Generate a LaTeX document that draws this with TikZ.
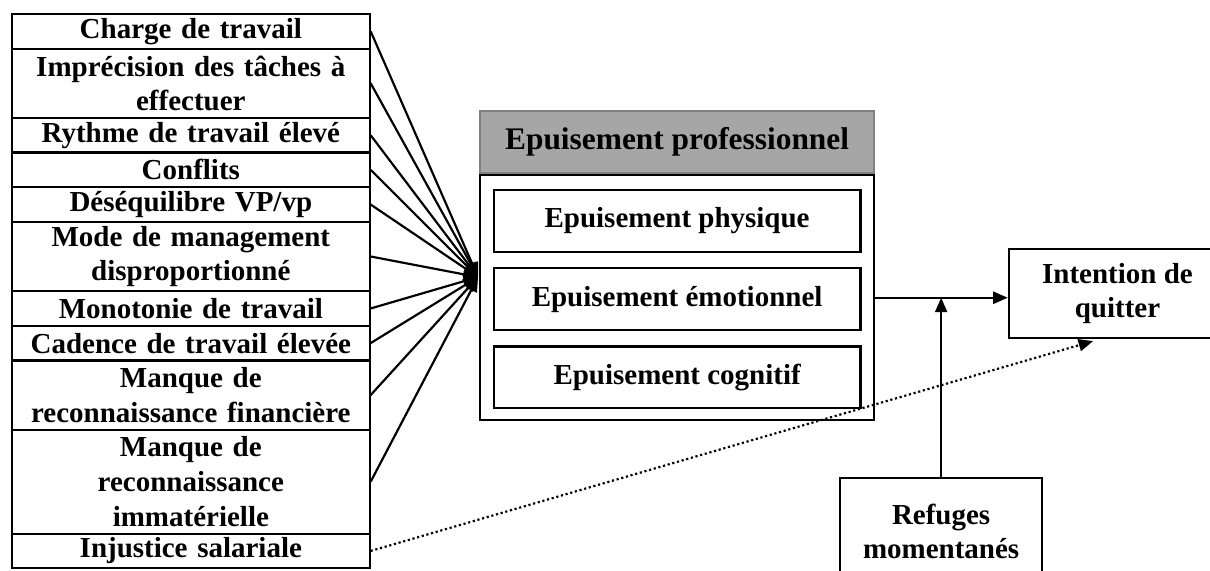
\documentclass[tikz,border=0pt]{standalone}
\usepackage{fontspec}
\setmainfont{Liberation Serif}
\usetikzlibrary{matrix,positioning,arrows.meta}

\begin{document}
\begin{tikzpicture}[
    font=\fontsize{12}{14.34}\selectfont\bfseries,
    >={Triangle[length=6pt,width=5pt]},
    box/.style={draw, line width=0.9pt, align=center},
    oneline/.style={minimum height=14.34pt},
    twolines/.style={minimum height=28.68pt},
    threelines/.style={minimum height=43.02pt},
    dimbox/.style={box, minimum width=151.9pt, minimum height=25.5pt}
]
    \useasboundingbox (0,0) rectangle (500.9pt,-236pt);

    \matrix (causes) [matrix of nodes, line width=0.9pt, anchor=north west, inner sep=0pt,
        nodes={draw, text width=144pt, align=center, inner xsep=2pt, inner ysep=0pt, anchor=center},
        row sep=-\pgflinewidth
    ] at (4.1pt,-4.9pt) {
        |[oneline]| Charge de travail \\
        |[twolines]| {Imprécision des tâches à\\effectuer} \\
        |[oneline]| Rythme de travail élevé \\
        |[oneline]| Conflits \\
        |[oneline]| Déséquilibre VP/vp \\
        |[twolines]| {Mode de management\\disproportionné} \\
        |[oneline]| Monotonie de travail \\
        |[oneline]| Cadence de travail élevée \\
        |[twolines]| {Manque de\\reconnaissance financière} \\
        |[threelines]| {Manque de\\reconnaissance\\immatérielle} \\
        |[oneline]| Injustice salariale \\
    };

    \node[draw=gray, line width=0.9pt, fill=gray!70, minimum width=163.1pt, minimum height=25.7pt,
        font=\fontsize{13}{15}\selectfont\bfseries] (header) at (280.3pt,-58.8pt) {Epuisement professionnel};
    \node[box, minimum width=163.1pt, minimum height=101.4pt, below=0pt of header] (body) {};

    \node[dimbox] (emotionnel) at (280.3pt,-123.8pt) {Epuisement émotionnel};
    \node[dimbox, above=6pt of emotionnel] (physique) {Epuisement physique};
    \node[dimbox, below=6pt of emotionnel] (cognitif) {Epuisement cognitif};

    \node[box, minimum width=90pt, minimum height=36.8pt] (intention) at (462.6pt,-121.5pt) {Intention de\\quitter};
    \node[box, minimum width=83.6pt, minimum height=44.3pt] (refuges) at (389.6pt,-220pt) {Refuges\\momentanés};

    \coordinate (conv) at (197.9pt,-114.7pt);
    \foreach \i in {1,...,10}{
        \draw[line width=0.9pt,->] (causes-\i-1.east) -- (conv);
    }

    \coordinate (join) at (refuges.north |- body.east);
    \draw[line width=0.9pt,->] (body.east) -- (intention.west |- body.east);
    \draw[line width=0.9pt,->] (refuges.north) -- (join);

    \coordinate (dotend) at (452.5pt,-141.2pt);
    \draw[line width=0.9pt,dash pattern=on 0.9pt off 1.1pt,->] (causes-11-1.east) -- (dotend);
\end{tikzpicture}
\end{document}
